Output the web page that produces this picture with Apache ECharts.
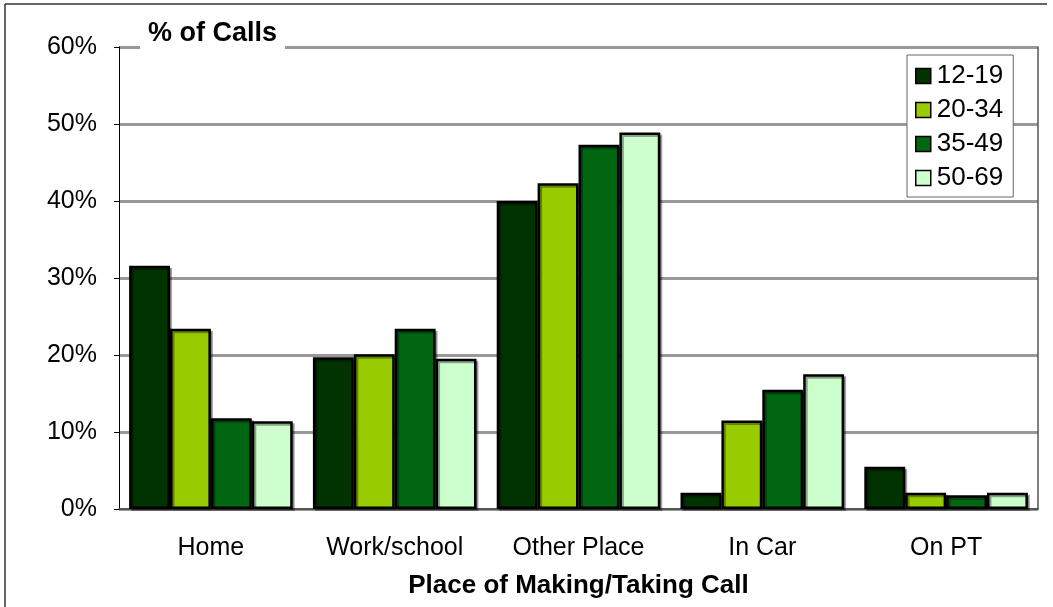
<!DOCTYPE html>
<html>
<head>
<meta charset="utf-8">
<script src="https://cdn.jsdelivr.net/npm/echarts@6/dist/echarts.min.js"></script>
<style>
  html, body { margin: 0; padding: 0; background: #fff; }
  #chart { width: 1053px; height: 607px; }
</style>
</head>
<body>
<div id="chart"></div>
<script>
// Share of calls by place, per age group
const places = ['Home', 'Work/school', 'Other Place', 'In Car', 'On PT'];
const ageGroups = ['12-19', '20-34', '35-49', '50-69'];
const age12to19 = [31.6, 19.7, 40.0, 2.1, 5.5];
const age20to34 = [23.4, 20.1, 42.3, 11.5, 2.1];
const age35to49 = [11.8, 23.4, 47.3, 15.5, 1.8];
const age50to69 = [11.4, 19.5, 48.9, 17.5, 2.1];
const yTicks = [0, 10, 20, 30, 40, 50, 60];

const seriesValues = [age12to19, age20to34, age35to49, age50to69];
const palette = ['#003300', '#99CC00', '#006611', '#CCFFCC'];
const FONT = '"Liberation Sans", Arial, sans-serif';

const chart = echarts.init(document.getElementById('chart'), null, { renderer: 'canvas' });

chart.setOption({
  animation: false,
  backgroundColor: '#ffffff',
  title: {
    text: '% of Calls',
    left: 140,
    top: 18,
    padding: [2, 8, 4, 8],
    backgroundColor: '#ffffff',
    textStyle: { fontFamily: FONT, fontSize: 27, fontWeight: 'bold', color: '#000' }
  },
  legend: {
    data: ageGroups,
    orient: 'vertical',
    left: 907,
    top: 55,
    padding: [8, 10, 6, 8],
    itemGap: 8,
    itemWidth: 15,
    itemHeight: 15,
    icon: 'rect',
    borderColor: '#666',
    borderWidth: 1,
    backgroundColor: '#fff',
    itemStyle: { borderColor: '#000', borderWidth: 1.5 },
    textStyle: { fontFamily: FONT, fontSize: 26, color: '#000', padding: [0, 0, 0, 1] }
  },
  grid: { left: 119, right: 15, top: 47, bottom: 98, containLabel: false },
  xAxis: {
    type: 'category',
    data: places,
    name: 'Place of Making/Taking Call',
    nameLocation: 'middle',
    nameGap: 64,
    nameTextStyle: { fontFamily: FONT, fontSize: 26, fontWeight: 'bold', color: '#000' },
    axisLine: { lineStyle: { color: '#404040', width: 1.5 } },
    axisTick: { show: false },
    axisLabel: { fontFamily: FONT, fontSize: 25, color: '#000', margin: 27 },
    splitLine: { show: false }
  },
  yAxis: [
    {
      type: 'value',
      min: yTicks[0],
      max: yTicks[yTicks.length - 1],
      interval: 10,
      axisLine: { show: true, lineStyle: { color: '#000', width: 1 } },
      axisTick: { show: true, length: 5, lineStyle: { color: '#000', width: 1 } },
      axisLabel: {
        fontFamily: FONT, fontSize: 25, color: '#000', margin: 22,
        formatter: v => v + '%'
      },
      splitLine: { show: true, lineStyle: { color: '#999999', width: 3 } }
    },
    {
      type: 'value',
      position: 'right',
      min: yTicks[0],
      max: yTicks[yTicks.length - 1],
      interval: 10,
      axisLine: { show: true, lineStyle: { color: '#555', width: 1.5 } },
      axisTick: { show: false },
      axisLabel: { show: false },
      splitLine: { show: false }
    }
  ],
  graphic: [
    { type: 'line', shape: { x1: 5, y1: 4, x2: 5, y2: 607 }, style: { stroke: '#333', lineWidth: 1.5 }, silent: true },
    { type: 'line', shape: { x1: 5, y1: 4, x2: 1047, y2: 4 }, style: { stroke: '#333', lineWidth: 1.5 }, silent: true }
  ],
  series: ageGroups.map((name, i) => ({
    name: name,
    type: 'bar',
    yAxisIndex: 0,
    data: seriesValues[i],
    barGap: '0%',
    barCategoryGap: '11%',
    itemStyle: {
      color: palette[i],
      borderColor: '#000',
      borderWidth: 2.5,
      shadowColor: 'rgba(0,0,0,0.35)',
      shadowOffsetX: 2,
      shadowOffsetY: 2,
      shadowBlur: 0
    }
  }))
});
</script>
</body>
</html>
